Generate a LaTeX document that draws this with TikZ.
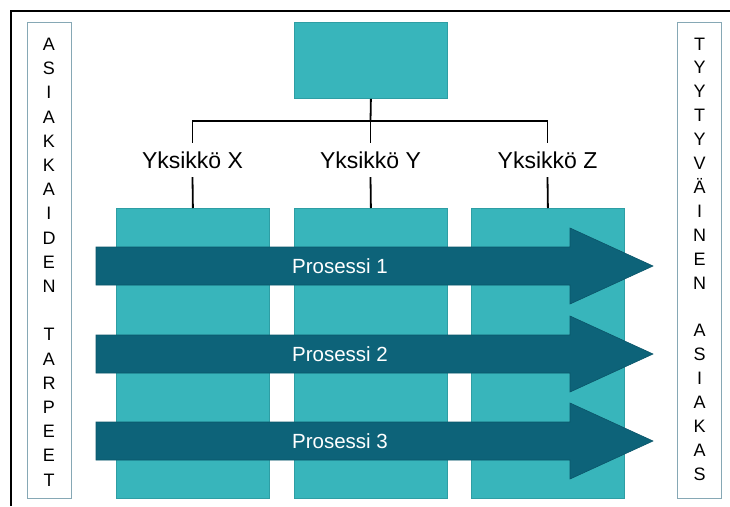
\documentclass[tikz,border=0pt]{standalone}
\usepackage{fontspec}
\setmainfont{Liberation Sans}
\definecolor{tealL}{HTML}{38B5BB}
\definecolor{tealLb}{HTML}{2E9EA4}
\definecolor{tealD}{HTML}{0D6379}
\definecolor{tealDb}{HTML}{0A5569}
\definecolor{sideb}{HTML}{86A8B5}
\tikzset{
  colbox/.style={draw=tealLb, fill=tealL, line width=0.8pt, minimum width=153pt, minimum height=290pt, inner sep=0pt, anchor=north west},
  topbox/.style={draw=tealLb, fill=tealL, line width=0.8pt, minimum width=153pt, minimum height=76pt, inner sep=0pt, anchor=north west},
  sidebox/.style={draw=sideb, fill=white, line width=1pt, minimum width=44pt, minimum height=476pt, inner sep=0pt, anchor=north west},
  unitlbl/.style={font=\fontsize{23}{26}\selectfont, minimum height=34pt, inner sep=0pt},
  proclbl/.style={font=\fontsize{20.5}{24}\selectfont, text=white, inner sep=0pt},
  letter/.style={font=\fontsize{18}{20}\selectfont, inner sep=0pt, anchor=base},
  procarrow/.style={fill=tealD, draw=tealDb, line width=0.6pt},
  conn/.style={draw=black, line width=1.8pt},
}
\begin{document}
\begin{tikzpicture}[x=1pt,y=-1pt]
\useasboundingbox (0,0) rectangle (730,506);
% frame
\draw[line width=1.5pt] (11,506) -- (11,11) -- (730,11);
% side boxes
\node[sidebox] (left) at (27,22) {};
\node[sidebox] (right) at (677,22) {};
\foreach \ch [count=\i from 0] in {A,S,I,A,K,K,A,I,D,E,N,{},T,A,R,P,E,E,T}
  \node[letter] (l\i) at (49,{44+24.2*\i+6.5}) {\ch};
\foreach \ch [count=\i from 0] in {T,Y,Y,T,Y,V,Ä,I,N,E,N,{},A,S,I,A,K,A,S}
  \node[letter] (r\i) at (699.5,{43.5+23.9*\i+6.5}) {\ch};
% top box
\node[topbox] (top) at (294,22) {};
% columns
\node[colbox] (cx) at (116,208) {};
\node[colbox] (cy) at (294,208) {};
\node[colbox] (cz) at (471,208) {};
% unit labels
\node[unitlbl] (lx) at (192.5,160) {Yksikkö X};
\node[unitlbl] (ly) at (370.5,160) {Yksikkö Y};
\node[unitlbl] (lz) at (547.5,160) {Yksikkö Z};
\coordinate (j) at (370.5,121);
\draw[conn] (top.south) -- (j);
\draw[conn] (lx.north) |- (j) -| (lz.north);
\draw[conn] (j) -- (ly.north);
\draw[conn] (lx.south) -- (cx.north);
\draw[conn] (ly.south) -- (cy.north);
\draw[conn] (lz.south) -- (cz.north);
% process arrows
\foreach \c/\n in {266/1,354/2,441/3}{
  \draw[procarrow] (96,\c-19) -- (570,\c-19) -- (570,\c-38) -- (653,\c) -- (570,\c+38) -- (570,\c+19) -- (96,\c+19) -- cycle;
  \node[proclbl] (p\n) at (340,\c) {Prosessi \n};
}
\end{tikzpicture}
\end{document}
